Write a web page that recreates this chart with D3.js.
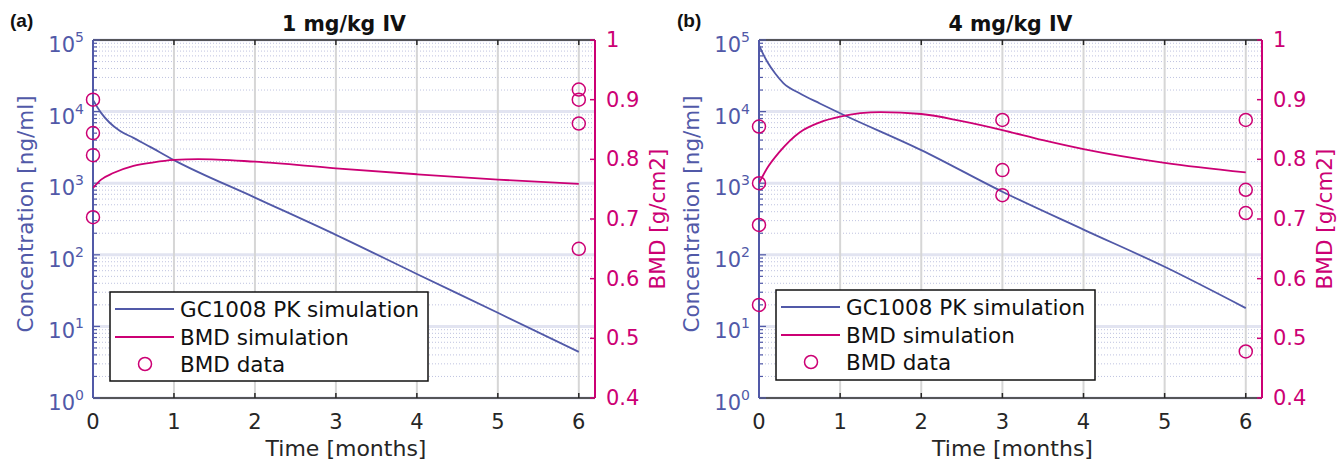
<!DOCTYPE html>
<meta charset="utf-8">
<script src="https://d3js.org/d3.v7.min.js"></script>
<style>
body { margin: 0; background: #fff; }
svg { font-family: "DejaVu Sans", sans-serif; }
</style>
<body></body>
<script>

// ticks
var timeTicks = [0, 1, 2, 3, 4, 5, 6];
var concExponents = [0, 1, 2, 3, 4, 5];
var bmdTicks = [0.4, 0.5, 0.6, 0.7, 0.8, 0.9, 1];
var bmdTickLabels = ["0.4", "0.5", "0.6", "0.7", "0.8", "0.9", "1"];

// (a) 1 mg/kg IV
var pkTimeA = [0, 0.05, 0.1, 0.2, 0.33, 0.5, 0.7, 1, 2, 3, 4, 5, 6];
var pkConcA = [14500, 11700, 9600, 7100, 5400, 4300, 3240, 2100, 630, 190, 54, 15.5, 4.4];
var bmdSimTimeA = [0, 0.1, 0.25, 0.5, 0.75, 1, 1.3, 2, 3, 4, 5, 6];
var bmdSimA = [0.752, 0.766, 0.777, 0.789, 0.795, 0.799, 0.8005, 0.796, 0.785, 0.775, 0.766, 0.759];
var bmdDataTimeA = [0, 0, 0, 0, 6, 6, 6, 6];
var bmdDataA = [0.900, 0.844, 0.807, 0.703, 0.917, 0.900, 0.860, 0.650];

// (b) 4 mg/kg IV
var pkTimeB = [0, 0.05, 0.1, 0.2, 0.3, 0.5, 0.75, 1, 2, 3, 4, 5, 6];
var pkConcB = [85000, 64000, 50000, 34000, 25000, 18000, 13000, 9500, 2900, 760, 225, 68, 18];
var bmdSimTimeB = [0, 0.1, 0.25, 0.5, 0.75, 1, 1.5, 2, 2.5, 3, 3.5, 4, 5, 6];
var bmdSimB = [0.760, 0.785, 0.812, 0.845, 0.862, 0.8715, 0.879, 0.876, 0.864, 0.849, 0.832, 0.817, 0.794, 0.778];
var bmdDataTimeB = [0, 0, 0, 0, 3, 3, 3, 6, 6, 6, 6];
var bmdDataB = [0.855, 0.760, 0.690, 0.556, 0.866, 0.782, 0.740, 0.866, 0.749, 0.710, 0.478];

var legendLabels = ["GC1008 PK simulation", "BMD simulation", "BMD data"];

var blue = "#5159a8";
var magenta = "#cc0074";
var dark = "#262626";

var svg = d3.select("body").append("svg")
  .attr("width", 1338)
  .attr("height", 460);

var panels = [
  { tag: "(a)", title: "1 mg/kg IV", left: 93, right: 595, tagX: 10,
    pkT: pkTimeA, pkC: pkConcA, simT: bmdSimTimeA, sim: bmdSimA, datT: bmdDataTimeA, dat: bmdDataA,
    legX: 110, legY: 292, legW: 318, legH: 89 },
  { tag: "(b)", title: "4 mg/kg IV", left: 759, right: 1262, tagX: 677,
    pkT: pkTimeB, pkC: pkConcB, simT: bmdSimTimeB, sim: bmdSimB, datT: bmdDataTimeB, dat: bmdDataB,
    legX: 776, legY: 290, legW: 319, legH: 90 }
];

var plotTop = 40, plotBottom = 398;

function isDecade(v) {
  return Math.abs(Math.log10(v) - Math.round(Math.log10(v))) < 1e-6;
}

panels.forEach(function(p, i) {
  var x = d3.scaleLinear().domain([0, 6.2]).range([p.left, p.right]);
  var yC = d3.scaleLog().domain([1, 1e5]).range([plotBottom, plotTop]);
  var yB = d3.scaleLinear().domain([0.4, 1]).range([plotBottom, plotTop]);

  var g = svg.append("g");

  // grid
  var minor = yC.ticks().filter(function(v) { return !isDecade(v); });
  g.selectAll(".minor").data(minor).enter().append("line")
    .attr("x1", p.left).attr("x2", p.right)
    .attr("y1", function(d) { return yC(d); }).attr("y2", function(d) { return yC(d); })
    .attr("stroke", "#bfc3e0").attr("stroke-width", 1).attr("stroke-dasharray", "1,2");
  g.selectAll(".major").data(concExponents).enter().append("line")
    .attr("x1", p.left).attr("x2", p.right)
    .attr("y1", function(d) { return yC(Math.pow(10, d)); }).attr("y2", function(d) { return yC(Math.pow(10, d)); })
    .attr("stroke", "#e2e4f1").attr("stroke-width", 3);
  g.selectAll(".vgrid").data(timeTicks).enter().append("line")
    .attr("x1", function(d) { return x(d); }).attr("x2", function(d) { return x(d); })
    .attr("y1", plotTop).attr("y2", plotBottom)
    .attr("stroke", "#d6d6d6").attr("stroke-width", 2);

  // box top/bottom
  g.append("line").attr("x1", p.left).attr("x2", p.right).attr("y1", plotTop).attr("y2", plotTop)
    .attr("stroke", dark).attr("stroke-width", 1.5);
  g.append("line").attr("x1", p.left).attr("x2", p.right).attr("y1", plotBottom).attr("y2", plotBottom)
    .attr("stroke", dark).attr("stroke-width", 1.5);
  timeTicks.forEach(function(t) {
    g.append("line").attr("x1", x(t)).attr("x2", x(t)).attr("y1", plotTop).attr("y2", plotTop + 5)
      .attr("stroke", dark).attr("stroke-width", 1.5);
    g.append("line").attr("x1", x(t)).attr("x2", x(t)).attr("y1", plotBottom).attr("y2", plotBottom - 5)
      .attr("stroke", dark).attr("stroke-width", 1.5);
    g.append("text").attr("x", x(t)).attr("y", 429).attr("text-anchor", "middle")
      .attr("font-size", 21).attr("fill", dark).text(t);
  });

  // left axis
  g.append("line").attr("x1", p.left).attr("x2", p.left).attr("y1", plotTop).attr("y2", plotBottom)
    .attr("stroke", blue).attr("stroke-width", 2);
  yC.ticks().forEach(function(v) {
    g.append("line").attr("x1", p.left).attr("x2", p.left + (isDecade(v) ? 7 : 4))
      .attr("y1", yC(v)).attr("y2", yC(v))
      .attr("stroke", blue).attr("stroke-width", 1.2);
  });
  concExponents.forEach(function(e) {
    var t = g.append("text").attr("x", p.left - 9).attr("y", yC(Math.pow(10, e)) + 12)
      .attr("text-anchor", "end").attr("fill", blue).attr("font-size", 21);
    t.append("tspan").text("10");
    t.append("tspan").attr("dy", -10).attr("font-size", 14).text(e);
  });
  g.append("text")
    .attr("transform", "translate(" + (p.left - 60) + "," + 214 + ") rotate(-90)")
    .attr("text-anchor", "middle").attr("font-size", 21.5).attr("fill", blue)
    .text("Concentration [ng/ml]");

  // right axis
  g.append("line").attr("x1", p.right).attr("x2", p.right).attr("y1", plotTop).attr("y2", plotBottom)
    .attr("stroke", magenta).attr("stroke-width", 2);
  bmdTicks.forEach(function(v, j) {
    g.append("line").attr("x1", p.right).attr("x2", p.right - 5).attr("y1", yB(v)).attr("y2", yB(v))
      .attr("stroke", magenta).attr("stroke-width", 1.5);
    g.append("text").attr("x", p.right + 11).attr("y", yB(v) + 7)
      .attr("fill", magenta).attr("font-size", 21).text(bmdTickLabels[j]);
  });
  g.append("text")
    .attr("transform", "translate(" + (p.right + 70) + "," + 219 + ") rotate(-90)")
    .attr("text-anchor", "middle").attr("font-size", 21.5).attr("fill", magenta)
    .text("BMD [g/cm2]");

  // titles
  g.append("text").attr("x", (p.left + p.right) / 2).attr("y", 31).attr("text-anchor", "middle")
    .attr("font-size", 20.5).attr("font-weight", "bold").attr("fill", "#111").text(p.title);
  g.append("text").attr("x", p.tagX).attr("y", 27)
    .attr("font-family", "Liberation Sans, Arial, sans-serif")
    .attr("font-size", 19).attr("font-weight", "bold").attr("fill", "#111").text(p.tag);

  // data
  var clipId = "clip" + i;
  svg.append("clipPath").attr("id", clipId).append("rect")
    .attr("x", p.left).attr("y", plotTop).attr("width", p.right - p.left).attr("height", plotBottom - plotTop);

  var pk = p.pkT.map(function(t, k) { return [t, p.pkC[k]]; });
  var sim = p.simT.map(function(t, k) { return [t, p.sim[k]]; });
  var dat = p.datT.map(function(t, k) { return [t, p.dat[k]]; });

  var plot = g.append("g").attr("clip-path", "url(#" + clipId + ")");
  plot.append("path").datum(pk)
    .attr("d", d3.line().curve(d3.curveMonotoneX)
      .x(function(d) { return x(d[0]); }).y(function(d) { return yC(d[1]); }))
    .attr("fill", "none").attr("stroke", blue).attr("stroke-width", 1.8);
  plot.append("path").datum(sim)
    .attr("d", d3.line().curve(d3.curveMonotoneX)
      .x(function(d) { return x(d[0]); }).y(function(d) { return yB(d[1]); }))
    .attr("fill", "none").attr("stroke", magenta).attr("stroke-width", 1.8);
  g.selectAll(".pt").data(dat).enter().append("circle")
    .attr("cx", function(d) { return x(d[0]); }).attr("cy", function(d) { return yB(d[1]); })
    .attr("r", 6.5).attr("fill", "none").attr("stroke", magenta).attr("stroke-width", 1.5);

  // legend
  var leg = g.append("g").attr("transform", "translate(" + p.legX + "," + p.legY + ")");
  leg.append("rect").attr("width", p.legW).attr("height", p.legH)
    .attr("fill", "#fff").attr("stroke", "#111").attr("stroke-width", 1.5);
  var rowY = [17, 45, 72];
  legendLabels.forEach(function(lbl, j) {
    if (j < 2) {
      leg.append("line").attr("x1", 5).attr("x2", 64).attr("y1", rowY[j]).attr("y2", rowY[j])
        .attr("stroke", j == 0 ? blue : magenta).attr("stroke-width", 1.8);
    } else {
      leg.append("circle").attr("cx", 35).attr("cy", rowY[j]).attr("r", 6.5)
        .attr("fill", "none").attr("stroke", magenta).attr("stroke-width", 1.5);
    }
    leg.append("text").attr("x", 70).attr("y", rowY[j] + 8).attr("font-size", 21.5)
      .attr("fill", "#111").text(lbl);
  });

  g.append("text").attr("x", (p.left + p.right) / 2 + 2).attr("y", 456).attr("text-anchor", "middle")
    .attr("font-size", 22).attr("fill", dark).text("Time [months]");
});

</script>
